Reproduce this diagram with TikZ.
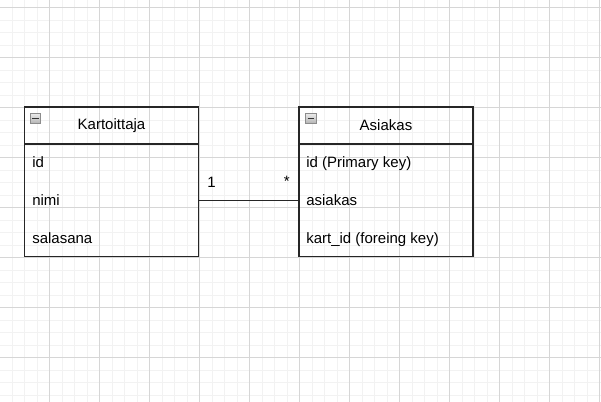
\documentclass[tikz,border=0pt]{standalone}
\usepackage{fontspec}
\setmainfont{Liberation Sans}
\usetikzlibrary{positioning}
\tikzset{
gridminor/.style = {draw=black!5, line width=0.45pt},
gridmajor/.style = {draw=black!16, line width=0.5pt},
headnode/.style = {rectangle, draw=black!85, line width=0.85pt, minimum width=130.5pt, minimum height=27.75pt, inner sep=0pt, outer sep=0pt},
bodynode/.style = {rectangle, draw=black!85, line width=0.85pt, minimum width=130.5pt, minimum height=84.4pt, inner sep=0pt, outer sep=0pt},
attrnode/.style = {anchor=base west, inner sep=0pt},
minusbox/.style = {rectangle, draw=black!45, line width=0.5pt, top color=black!8, bottom color=black!30, minimum size=7.6pt, inner sep=0pt},
minusbar/.style = {draw=black!80, line width=1pt},
assoc/.style = {draw=black!85, line width=0.85pt}
}
\begin{document}
\begin{tikzpicture}[x=0.75pt, y=-0.75pt, font=\fontsize{11.25}{13.5}\selectfont]
\useasboundingbox (0,0) rectangle (601,402);
% background grid
\foreach \gx in {12,24.5,...,600} \draw[gridminor] (\gx,0) -- (\gx,402);
\foreach \gy in {7.5,20,...,402} \draw[gridminor] (0,\gy) -- (601,\gy);
\foreach \gx in {49.5,99.5,...,600} \draw[gridmajor] (\gx,0) -- (\gx,402);
\foreach \gy in {7.5,57.5,...,402} \draw[gridmajor] (0,\gy) -- (601,\gy);

% Kartoittaja
\node [headnode] (karthead) at (111.5,125.5) {Kartoittaja};
\node [bodynode, below=0pt of karthead] (kartbody) {};
\node [minusbox] (kartminus) at (35.3,118.5) {};
\draw [minusbar] ([xshift=1.6pt]kartminus.west) -- ([xshift=-1.6pt]kartminus.east);
\node [attrnode] (kartid) at (32,168) {id};
\node [attrnode] (kartnimi) at (32,206) {nimi};
\node [attrnode] (kartsala) at (32,244) {salasana};

% Asiakas
\node [headnode] (ashead) at (386,125.5) {Asiakas};
\node [bodynode, below=0pt of ashead] (asbody) {};
\node [minusbox] (asminus) at (310.8,118.5) {};
\draw [minusbar] ([xshift=1.6pt]asminus.west) -- ([xshift=-1.6pt]asminus.east);
\node [attrnode] (asid) at (306,168) {id (Primary key)};
\node [attrnode] (asnimi) at (306,206) {asiakas};
\node [attrnode] (askart) at (306,244) {kart\_id (foreing key)};

% association 1 - *
\draw [assoc] (kartbody.east) -- (asbody.west);
\node [anchor=base, inner sep=0pt] (multone) at (211.5,187.3) {1};
\node [anchor=base, inner sep=0pt] (multmany) at (286.7,187) {*};
\end{tikzpicture}
\end{document}
